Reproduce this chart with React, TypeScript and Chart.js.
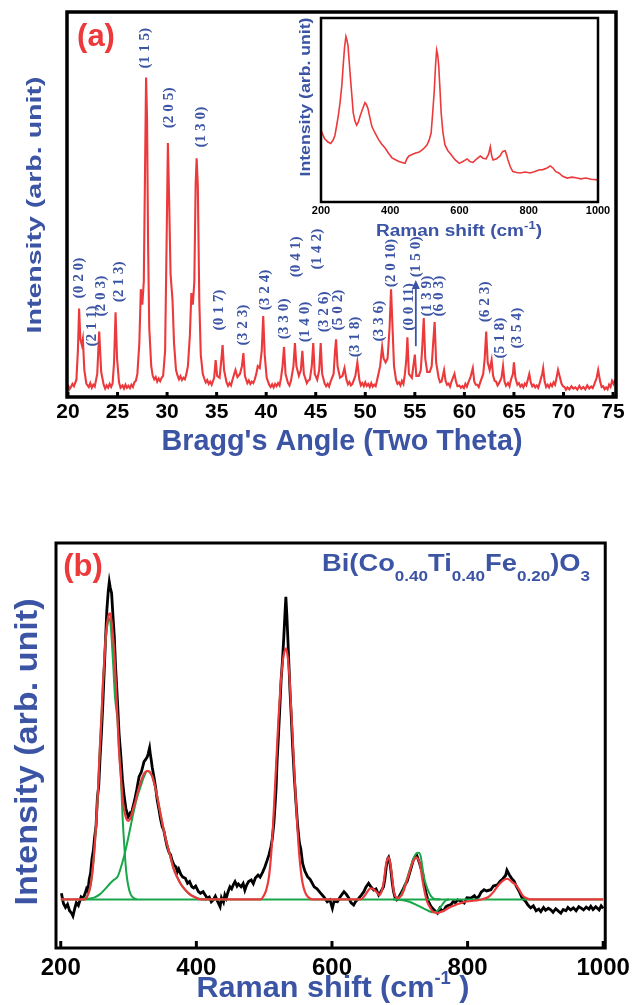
import React, { useEffect, useRef } from 'react';
import { Chart, registerables } from 'chart.js';
Chart.register(...registerables);

const BLUE = '#3b54a4';
const RED = '#ec3a3c';
const GREEN = '#19a64a';
const SANS = '"Liberation Sans", Arial, sans-serif';
const SERIF = '"Liberation Serif", "Times New Roman", serif';

// ---------------- (a) XRD pattern ----------------
const xrdTicks = [20, 25, 30, 35, 40, 45, 50, 55, 60, 65, 70, 75];
const xrdAngle = [
  20.0, 20.15, 20.3, 20.45, 20.6, 20.85, 21.0, 21.12, 21.25, 21.4, 21.5, 21.65, 21.85, 22.1, 22.25, 22.4, 22.55, 22.7, 22.95, 23.15, 23.35, 23.6, 23.75, 23.9,
  24.05, 24.2, 24.35, 24.5, 24.65, 24.8, 24.95, 25.15, 25.3, 25.5, 25.65, 25.8, 25.95, 26.1, 26.25, 26.4, 26.55, 26.7, 26.85, 27.0, 27.2, 27.35, 27.5, 27.65, 27.78, 27.88, 27.98,
  28.08, 28.2, 28.4, 28.55, 28.7, 28.85, 29.0, 29.15, 29.3, 29.45, 29.6, 29.8, 29.95, 30.08, 30.2, 30.35, 30.55, 30.7, 30.9, 31.05, 31.2, 31.35, 31.5, 31.65, 31.8, 31.95, 32.1, 32.3,
  32.45, 32.6, 32.75, 32.88, 32.98, 33.1, 33.25, 33.4, 33.6, 33.75, 33.9, 34.05, 34.2, 34.35, 34.5, 34.75, 34.9, 35.05, 35.3, 35.45, 35.6, 35.75,
  36.0, 36.15, 36.3, 36.45, 36.6, 36.9, 37.1, 37.35, 37.55, 37.7, 37.85, 38.1, 38.25, 38.4, 38.55, 38.7, 38.85, 39.0, 39.15, 39.35, 39.55, 39.7, 39.85, 40.05,
  40.3, 40.45, 40.6, 40.75, 40.9, 41.05, 41.2, 41.35, 41.5, 41.65, 41.8, 41.95, 42.2, 42.35, 42.5, 42.75, 42.9, 43.05, 43.3, 43.5, 43.65, 43.8, 44.1, 44.25, 44.4,
  44.6, 44.75, 44.9, 45.15, 45.35, 45.5, 45.65, 45.9, 46.05, 46.2, 46.35, 46.5, 46.8, 46.95, 47.05, 47.2, 47.45, 47.7, 47.9, 48.1, 48.25, 48.4, 48.55,
  48.7, 49.0, 49.2, 49.4, 49.55, 49.7, 49.85, 50.0, 50.15, 50.3, 50.45, 50.6, 50.75, 50.9, 51.05, 51.2, 51.5, 51.7, 51.85, 52.05, 52.25, 52.45, 52.6, 52.75, 52.9,
  53.1, 53.25, 53.4, 53.55, 53.7, 53.85, 54.0, 54.15, 54.25, 54.4, 54.7, 54.85, 55.0, 55.15, 55.4, 55.6, 55.75, 55.9, 56.05, 56.25, 56.5, 56.7,
  56.85, 57.0, 57.15, 57.4, 57.55, 57.7, 57.95, 58.1, 58.25, 58.4, 58.55, 58.7, 59.0, 59.15, 59.3, 59.5, 59.65, 59.8, 59.95, 60.1, 60.25, 60.4, 60.6, 60.85, 61.0, 61.15, 61.3,
  61.45, 61.6, 61.9, 62.05, 62.2, 62.35, 62.55, 62.75, 62.9, 63.05, 63.2, 63.35, 63.5, 63.75, 63.9, 64.05, 64.2, 64.4, 64.55, 64.7, 64.9, 65.0, 65.15, 65.35, 65.5,
  65.65, 65.8, 65.95, 66.1, 66.25, 66.4, 66.55, 66.7, 66.85, 67.0, 67.15, 67.3, 67.45, 67.6, 67.85, 67.95, 68.1, 68.25, 68.4, 68.55, 68.7, 68.85, 69.0, 69.15, 69.3, 69.45, 69.6, 69.8, 69.95, 70.1,
  70.25, 70.4, 70.6, 70.8, 71.0, 71.2, 71.4, 71.6, 71.8, 72.0, 72.2, 72.4, 72.6, 72.8, 72.95, 73.1, 73.35, 73.5, 73.7, 73.85, 74.0, 74.15, 74.3, 74.45, 74.6, 74.75, 74.9, 75.05, 75.2,
];
const xrdIntensity = [
  3.2, 2.0, 2.6, 3.4, 2.8, 4.5, 12, 23, 15, 13.5, 15, 7, 3.5, 2.6, 3.6, 2.4, 3.2, 2.7, 6, 17, 6.5, 3.2, 2.2, 3.0,
  2.4, 3.4, 2.6, 3.5, 9, 22, 10, 3.8, 2.4, 3.0, 2.2, 3.2, 2.4, 2.9, 2.3, 3.2, 2.6, 3.8, 4.2, 6, 14, 28, 24, 30, 60, 83, 72,
  40, 18, 8, 5.5, 4.6, 5.2, 4.0, 4.8, 4.1, 5.0, 5.5, 12, 40, 66, 52, 32, 25, 14, 7, 5.6, 4.6, 5.4, 4.4, 5.0, 4.6, 6.0, 8, 16,
  27, 24, 30, 55, 62, 55, 25, 11, 6, 4.8, 3.8, 4.4, 3.4, 4.0, 3.2, 5, 9.6, 5.5, 5, 9, 13.5, 7,
  3.8, 2.9, 3.6, 3.0, 4.5, 7, 5.2, 6, 8, 11.4, 5.5, 3.6, 4.3, 3.4, 4.0, 3.6, 4.6, 6, 8, 7.5, 12, 21, 11, 5,
  3.2, 2.6, 3.3, 2.5, 3.4, 2.8, 3.6, 3.0, 5, 8, 13, 6, 3.6, 3.0, 4.2, 8, 14, 8, 5.5, 7, 12, 6, 3.6, 4.3, 4.5,
  8, 14, 6, 4.5, 7, 14, 6, 3.5, 2.8, 3.4, 2.7, 4, 6, 12, 15, 8, 5, 5.5, 7.5, 4.5, 3.3, 3.9, 3.0,
  3.4, 5.5, 9, 4.5, 3.0, 3.6, 2.8, 3.8, 2.9, 3.4, 2.6, 3.6, 2.7, 3.2, 2.8, 4.5, 8, 13, 10, 9, 10, 18, 28, 18, 8,
  4.5, 3.4, 3.8, 3.0, 4.2, 3.4, 6, 10, 15.5, 6, 5, 8, 11, 5.5, 5.5, 7, 13, 20.5, 10, 6.5, 6.5, 8,
  14, 19.5, 9, 5, 3.8, 4, 7, 4.2, 3.2, 3.5, 2.7, 4, 6, 4, 2.8, 3, 2.4, 2.8, 2.3, 3.4, 2.7, 3.8, 5, 7.5, 4, 3.2, 3.2,
  2.6, 3.8, 6, 10, 17, 9, 7, 9.6, 5.5, 4.2, 4, 3.0, 3.6, 5, 8, 4, 2.9, 3.6, 2.8, 4.5, 6, 9, 5, 3.2, 3.6,
  2.7, 3.2, 2.5, 3.5, 3.0, 4.5, 6, 3.8, 2.8, 3.2, 2.5, 3.0, 2.4, 3.6, 6, 7.5, 4, 2.6, 3.2, 2.5, 3.4, 2.8, 3.8, 3.2, 5, 7, 5.5, 3.5, 2.8, 2.6,
  1.9, 2.5, 2.0, 2.8, 2.2, 2.5, 1.9, 2.9, 2.1, 2.6, 2.0, 3.0, 2.2, 2.7, 2.3, 3.2, 5, 7, 4, 2.6, 2.8, 2.0, 2.5, 2.0, 3.2, 2.6, 4.2, 3.4, 4.5,
];
const hklText = [
  '(0 2 0)', '(2 1 1)', '(2 0 3)', '(2 1 3)', '(1 1 5)', '(2 0 5)', '(1 3 0)', '(0 1 7)', '(3 2 3)', '(3 2 4)',
  '(3 3 0)', '(0 4 1)', '(1 4 0)', '(1 4 2)', '(3 2 6)', '(5 0 2)', '(3 1 8)', '(3 3 6)', '(2 0 10)', '(0 0 11)',
  '(1 5 0)', '(1 3 9)', '(6 0 3)', '(6 2 3)', '(5 1 8)', '(3 5 4)',
];
const hklAngle = [
  21.11, 22.42, 23.33, 25.15, 27.77, 30.19, 33.42, 35.24, 37.66, 39.88,
  41.8, 43.01, 43.92, 45.13, 45.83, 47.25, 48.96, 51.38, 52.59, 54.41,
  55.12, 56.23, 57.44, 62.08, 63.59, 65.31,
];
const hklLevel = [
  30.9, 18.4, 26.2, 29.9, 90.6, 75.1, 70.1, 22.6, 18.7, 27.8,
  20.3, 36.4, 19.5, 38.4, 22.1, 22.6, 15.6, 19.7, 34.8, 23.4,
  36.4, 26.2, 26.2, 24.7, 15.3, 17.9,
];
const arrowAngle = 55.1;
const arrowFrom = 13.2;
const arrowTo = 30.4;

// ---------------- inset Raman ----------------
const insetTicks = [200, 400, 600, 800, 1000];
const insetShift = [
  201, 210, 220, 228, 235, 240, 245, 250, 255, 260, 264, 268, 272, 275, 278, 282, 286, 290, 293, 298, 303, 308, 313,
  320, 327, 331, 336, 341, 347, 356, 366, 375, 385, 395, 405, 415, 425, 434, 443, 448, 454, 463, 473, 482, 492, 499,
  506, 512, 518, 522, 527, 531, 534, 537, 540, 544, 547, 552, 558, 566, 576, 587, 599, 610, 622, 630, 639, 650, 660,
  668, 677, 684, 689, 693, 697, 707, 717, 725, 732, 737, 740, 747, 754, 765, 775, 790, 804, 816, 829, 841, 853, 862,
  870, 878, 887, 898, 911, 925, 940, 950, 965, 980, 1000,
];
const insetIntensity = [
  38.6, 34.5, 32.6, 31.8, 33.7, 36, 41.3, 47, 54, 63, 74, 84, 90, 88, 85, 75, 65, 56, 48.6, 44, 41.8, 43.5, 46.7,
  50.5, 54, 53, 50.5, 46, 41, 37.5, 34, 31.5, 29.3, 26.5, 24, 23, 22, 21.5, 21, 23.5, 25, 25.8, 26.6, 27, 28.3, 29.5,
  31, 33.5, 37.5, 47, 60, 75, 82.6, 80, 74, 60, 48.6, 38, 31, 28, 25.7, 23, 21, 22, 23.4, 22, 21.5, 23.5, 25,
  23.8, 23.4, 26, 30, 25, 22.8, 23.5, 25, 27.5, 27.9, 25, 22.8, 19, 16.5, 16, 15.8, 16.3, 15.8, 16.5, 17.4, 17.6, 18.5, 19.6,
  18.5, 16.5, 15.8, 14, 13, 13.5, 13, 12.6, 13, 12.4, 12,
];

// ---------------- (b) Raman with fit ----------------
const ramanTicks = [200, 400, 600, 800, 1000];
const ramanShift = [
  201, 204, 207, 210, 213, 216, 218, 221, 223, 226, 230, 233, 236, 238, 240, 242, 244, 246, 248, 250, 252, 254, 256, 258,
  260, 262, 264, 266, 268, 270, 271.6, 273, 275, 277, 279, 281, 283.8, 286, 288.7, 291, 293.6, 296, 299.4, 302, 304, 306,
  309, 312, 315.5, 319, 322.8, 325, 327.6, 329, 331, 332, 333.5, 335, 337.4, 340, 342.3, 345, 347, 349.6, 352, 355, 357,
  360, 362, 364, 367, 370, 372, 374, 377, 380, 383.8, 387, 390, 393.4, 396, 399, 403, 406, 410, 413, 416, 419, 422, 425,
  428, 431, 435, 437, 440, 442, 444, 447, 449.5, 452, 455, 457, 460, 462, 466, 469, 471.5, 474, 477, 481, 484, 487, 491,
  494, 498, 501, 504.5, 507, 510, 512, 514.3, 516, 517.7, 519, 521, 523, 525, 527, 529, 530.5, 532, 533.5, 534.8, 536.5,
  538, 540, 542, 544.5, 547, 549.5, 552, 554, 556.7, 560, 564, 568, 573.8, 578, 583.5, 588, 593, 597, 600.6, 603, 608,
  612, 617.7, 621, 625, 628, 632, 635, 639.6, 643, 647, 650, 654, 657, 661.5, 665, 668.9, 672, 676, 678, 680, 682, 683.5,
  685, 686.8, 689, 690.8, 693, 695.6, 698, 700.4, 704, 707.7, 711, 715, 718, 720, 722.5, 724.8, 726.3, 729, 731, 733.6,
  736, 738.6, 742, 746, 750, 753, 755.6, 759, 762, 765.5, 768, 771, 775.4, 779, 782, 785.3, 790, 795, 799, 804.8, 810,
  813, 817, 820, 824.3, 828, 834.3, 838, 844, 848, 852, 856, 858, 861.4, 865, 868.7, 872, 876, 880, 885.6, 889, 893, 897,
  901, 905, 908, 912, 915, 919, 922.8, 926, 930, 934, 937.5, 941, 945, 948, 952, 956, 960, 964, 967, 971, 975, 979, 981.7,
  985, 989, 994, 997, 1000,
];
const ramanIntensity = [
  13.5, 11, 10, 10.8, 9.2, 8.6, 7.9, 10, 11.2, 10.5, 12.6, 12.2, 13.5, 14.6, 14, 17, 18.5, 22, 24, 27.5, 30, 37, 40, 47,
  53, 60, 68, 76, 83.5, 88, 90.4, 89, 87.6, 82, 76.9, 69, 60.5, 53, 47.2, 41.5, 37.4, 34.5, 32.4, 33.2, 32.4, 34.5,
  36.5, 39, 42.3, 43.5, 46, 46.5, 47.2, 48, 49.4, 48, 46.4, 44.5, 42.3, 39.5, 36.5, 34, 32, 30, 29, 26.5, 25,
  23.5, 23, 21.7, 20.5, 20, 18.8, 19.5, 18.2, 17.5, 17.2, 16, 16.4, 15.1, 14.8, 15.3, 13.9, 13.5, 13.9, 13.1, 12.3, 12.6, 11.4, 11.9,
  12.8, 11.6, 10.2, 12.4, 11.3, 13.1, 12.3, 14, 15.1, 14.6, 15.8, 16.4, 15.3, 15.8, 15.1, 15.9, 14.3, 15.5, 16.4, 16.8, 15.9, 17.3, 18,
  17.5, 18.8, 20, 21.7, 23, 25, 27, 30.8, 35, 39.8, 46, 52.2, 59, 66.2, 71, 76.9, 82, 86.7, 82, 76.9, 70,
  63.7, 57, 49.7, 42, 35.7, 30, 25.9, 24.5, 20.9, 19, 17.6, 16.9, 15.1, 14.6, 13.5, 12.6, 11.4, 11.9, 9.8, 11.5, 11.4,
  12.6, 13.9, 13.3, 12.3, 11.2, 10.6, 11.5, 12.3, 13, 13.9, 15, 16, 15.2, 14.3, 14.6, 13.1, 13.9, 15.1, 17, 20, 22, 22.4,
  21.5, 19.3, 16, 13.9, 12.5, 11.9, 12.4, 13.1, 14.2, 15.6, 16.5, 18.8, 20.5, 21.7, 22.5, 23, 22.3, 21, 19.8, 18.6,
  16, 13.6, 11.6, 10.3, 9.5, 9, 8.6, 9.8, 9.2, 9.4, 10.2, 10.5, 10.7, 11.5, 11.2, 11.9, 11.6, 11.1, 12.4, 12.3, 12.9,
  12.2, 12.8, 13.8, 14.4, 14.1, 14.4, 15.3, 15.6, 16.5, 17.1, 17.9, 19.2, 18.1, 17.2, 16.5, 15.2, 14, 12.5, 11.5, 10.6, 9.9, 10.4,
  9.2, 9.6, 9, 10, 9.3, 9.8, 9.4, 8.8, 9.7, 9.1, 8.6, 9.5, 9.2, 10, 9.4, 9.9, 9.2, 10.2, 9.9, 9.4, 10.1, 9.6, 10.3,
  9.5, 10.2, 9.4, 10.4, 9.8,
];
const fitShift = [
  200, 236, 240, 244, 247, 250, 252, 255, 257, 260, 262, 264.5, 266.8, 270, 273, 276, 279, 281.5, 283.8, 286, 288.7, 291,
  293.6, 296.5, 299.4, 302, 304.2, 307, 310.6, 314, 318, 322, 327.6, 331, 335, 338.5, 342.3, 347, 352, 357, 361.8, 366,
  371.5, 377, 383.8, 390, 396, 405.7, 495, 499, 503, 507, 510, 513, 516, 518.5, 521, 523.5, 526, 529, 532.3, 535, 537.3,
  539.5, 542, 544.5, 547, 549.5, 552, 554.5, 556.7, 560, 564, 571.3, 642, 649, 653, 656.6, 660, 664, 667, 670, 673, 676,
  678, 680, 683.5, 685.2, 686.8, 689, 690.8, 693.5, 697, 700, 703, 706.5, 710, 714, 717.5, 721, 724.8, 727, 730, 733,
  736.5, 740, 744, 747.5, 751, 755, 760, 765, 772, 780, 788, 795.5, 805, 815.5, 823, 830.7, 838, 845.9, 852, 858, 862,
  866, 871, 876, 881, 887, 893, 1000,
];
const fitIntensity = [
  12, 12, 13.1, 15.5, 19.3, 25, 30, 39, 47.2, 57, 64.5, 72, 77.7, 81.8, 82.6, 79, 72.8, 64.5, 56.3, 48.5, 42.3, 37.5,
  34, 32, 31.4, 31.8, 32.8, 34.5, 36.5, 38.8, 41, 42.8, 43.7, 43.5, 42.3, 40.2, 37.4, 33.2, 29.1, 25.5, 22.5, 19.8,
  17.6, 15.8, 14.3, 13.3, 12.7, 12, 12, 12.8, 14.3, 17.5, 22.5, 30, 39.8, 48, 56.3, 63, 68.6, 72.5, 74, 71.5, 67,
  60, 52.2, 43.5, 35.7, 28.5, 22.5, 18.5, 16, 13.9, 12.7, 12, 12, 13.1, 14.1, 14.7, 14.6, 14.1, 13.6, 13.1, 13.9, 16,
  18.5, 20.9, 22.4, 21.5, 20, 17, 14.3, 12.8, 12.3, 12.6, 13.1, 14.5, 16.4, 18.5, 20.5, 21.8, 22.4, 21.9, 20.5, 17.2,
  14, 11.6, 10.2, 9.2, 8.8, 8.6, 8.9, 9.2, 9.9, 10.5, 11, 11.4, 11.6, 11.8, 12.1, 12.6, 13.8, 15.6, 16.6, 17.1, 16.8,
  16.2, 15.6, 14.4, 13, 12.3, 12, 12,
];
const comp1Shift = [232, 240, 244, 247, 250, 252, 255, 257, 260, 262, 264.5, 266.8, 270, 272, 274, 277, 280, 283.8, 286, 288.7, 291, 293.6, 296.5, 299.4, 303, 308, 312];
const comp1Intensity = [12, 13.1, 15.5, 19.3, 25, 30, 39, 47.2, 57, 64.5, 72, 77, 80.8, 81.4, 79, 71, 62, 56, 49, 42.3, 33, 25.5, 19, 15.5, 13.3, 12.3, 12];
const comp2Shift = [236, 250, 258, 264, 272, 278, 283.8, 288, 293.6, 298, 303, 308, 313, 318, 322.8, 327.6, 331, 335, 338.5, 342.3, 347, 352, 357, 361.8, 366, 371.5, 377, 383.8, 390, 396, 405.7, 420];
const comp2Intensity = [12, 12.5, 13.3, 14.3, 15.8, 16.8, 17.6, 19.5, 22.8, 26, 30, 34, 37.4, 40, 42.3, 43.7, 43.5, 42.3, 40.2, 37.4, 33.2, 29.1, 25.5, 22.5, 19.8, 17.6, 15.8, 14.3, 13.3, 12.7, 12.1, 12];
const comp3Shift = [692, 700, 705, 710, 715, 720, 724, 728, 731, 735, 738, 742.5, 746, 750, 755, 760];
const comp3Intensity = [12, 12.6, 14.3, 16.8, 19.5, 22, 23.3, 23.5, 22.5, 18.1, 16, 13.9, 12.8, 12.2, 12.05, 12];
const comp4Shift = [690, 700, 710, 716, 725, 735, 742, 748, 753, 758, 763, 768, 773];
const comp4Intensity = [12, 11.9, 11.6, 11.3, 10.6, 9.8, 9.2, 8.8, 8.9, 9.6, 10.8, 11.8, 12];
const baselineShift = [200, 1000];
const baselineIntensity = [12, 12];

// ---------------- helpers ----------------
const pts = (xs: number[], ys: number[]) => xs.map((x, i) => ({ x, y: ys[i] }));

function drawLabel(ctx: CanvasRenderingContext2D, text: string, cx: number, cy: number, o: { font: string; color: string; rotate?: boolean; length?: number; scale?: number }) {
  ctx.save();
  ctx.font = o.font;
  ctx.fillStyle = o.color;
  ctx.textAlign = 'center';
  ctx.textBaseline = 'middle';
  const w = ctx.measureText(text).width;
  const s = o.length ? o.length / w : o.scale ?? 1;
  ctx.translate(cx, cy);
  if (o.rotate) ctx.rotate(-Math.PI / 2);
  ctx.scale(s, 1);
  ctx.fillText(text, 0, 0);
  ctx.restore();
}

type Seg = { text: string; font: string; dy: number };
function drawRich(ctx: CanvasRenderingContext2D, segs: Seg[], cx: number, baseline: number, length: number, color: string) {
  ctx.save();
  ctx.fillStyle = color;
  ctx.textAlign = 'left';
  ctx.textBaseline = 'alphabetic';
  let total = 0;
  const ws = segs.map((s) => {
    ctx.font = s.font;
    const w = ctx.measureText(s.text).width;
    total += w;
    return w;
  });
  const sc = length / total;
  ctx.translate(cx - length / 2, baseline);
  ctx.scale(sc, 1);
  let x = 0;
  segs.forEach((s, i) => {
    ctx.font = s.font;
    ctx.fillText(s.text, x, s.dy);
    x += ws[i];
  });
  ctx.restore();
}

function framePlugin(lineWidth: number, tickLen: number) {
  return {
    id: 'frame',
    afterDatasetsDraw(chart: any) {
      const { ctx, chartArea: a } = chart;
      ctx.save();
      ctx.strokeStyle = '#000';
      ctx.lineWidth = lineWidth;
      ctx.strokeRect(a.left, a.top, a.right - a.left, a.bottom - a.top);
      if (tickLen > 0) {
        const xs = chart.scales.x;
        ctx.lineWidth = 3;
        xs.ticks.forEach((t: any) => {
          const x = xs.getPixelForValue(t.value);
          ctx.beginPath();
          ctx.moveTo(x, a.bottom);
          ctx.lineTo(x, a.bottom - tickLen);
          ctx.stroke();
        });
      }
      ctx.restore();
    },
  };
}

function xScale(min: number, max: number, ticks: number[], size: number, pad: number, height: number) {
  return {
    type: 'linear',
    position: 'bottom',
    min,
    max,
    grid: { display: false, drawTicks: false },
    border: { display: false },
    ticks: {
      font: { family: SANS, size, weight: 'bold' },
      color: '#000',
      padding: pad,
      maxRotation: 0,
      autoSkip: false,
      callback: (v: number) => String(v),
    },
    afterBuildTicks: (s: any) => {
      s.ticks = ticks.map((v) => ({ value: v }));
    },
    afterFit: (s: any) => {
      s.height = height;
    },
  };
}

const yScale = { type: 'linear', min: 0, max: 100, display: false };

function baseOptions(padding: any, x: any) {
  return {
    responsive: false,
    animation: false,
    events: [],
    layout: { padding },
    plugins: { legend: { display: false }, tooltip: { enabled: false } },
    elements: { point: { radius: 0 } },
    scales: { x, y: yScale },
  };
}

function ChartCanvas({ left, top, width, height, make }: { left: number; top: number; width: number; height: number; make: () => any }) {
  const ref = useRef<HTMLCanvasElement>(null);
  useEffect(() => {
    const chart = new Chart(ref.current as HTMLCanvasElement, make());
    return () => chart.destroy();
  }, []);
  return <canvas ref={ref} width={width} height={height} style={{ position: 'absolute', left, top, width, height }} />;
}

// ---------------- chart configs ----------------
const makeXrd = () => ({
  type: 'line',
  data: {
    datasets: [{ data: pts(xrdAngle, xrdIntensity), borderColor: RED, borderWidth: 2.1, tension: 0 }],
  },
  options: baseOptions({ left: 67, right: 20, top: 12, bottom: 0 }, xScale(19.9, 75.3, xrdTicks, 21, 3, 73)),
  plugins: [
    framePlugin(3.5, 5),
    {
      id: 'xrdText',
      afterDraw(chart: any) {
        const { ctx } = chart;
        const xs = chart.scales.x;
        const ys = chart.scales.y;
        hklText.forEach((t, i) => {
          drawLabel(ctx, t, xs.getPixelForValue(hklAngle[i]), ys.getPixelForValue(hklLevel[i]), {
            font: `bold 15px ${SERIF}`,
            color: BLUE,
            rotate: true,
            scale: 1.02,
          });
        });
        const ax = xs.getPixelForValue(arrowAngle);
        const y0 = ys.getPixelForValue(arrowFrom);
        const y1 = ys.getPixelForValue(arrowTo);
        ctx.save();
        ctx.strokeStyle = BLUE;
        ctx.fillStyle = BLUE;
        ctx.lineWidth = 1.8;
        ctx.beginPath();
        ctx.moveTo(ax, y0);
        ctx.lineTo(ax, y1 + 6);
        ctx.stroke();
        ctx.beginPath();
        ctx.moveTo(ax, y1);
        ctx.lineTo(ax - 4, y1 + 9);
        ctx.lineTo(ax + 4, y1 + 9);
        ctx.closePath();
        ctx.fill();
        ctx.restore();
        drawLabel(ctx, '(a)', 96, 37, { font: `bold 31px ${SANS}`, color: RED });
        drawLabel(ctx, 'Intensity (arb. unit)', 35, 205, { font: `bold 21px ${SANS}`, color: BLUE, rotate: true, length: 257 });
        drawLabel(ctx, "Bragg's Angle (Two Theta)", 342, 442, { font: `bold 29px ${SANS}`, color: BLUE, length: 361 });
      },
    },
  ],
});

const makeInset = () => ({
  type: 'line',
  data: {
    datasets: [{ data: pts(insetShift, insetIntensity), borderColor: RED, borderWidth: 1.6, tension: 0 }],
  },
  options: baseOptions({ left: 41, right: 22, top: 18, bottom: 0 }, xScale(200, 1000, insetTicks, 11, 2, 48)),
  plugins: [
    framePlugin(2.5, 0),
    {
      id: 'insetText',
      afterDraw(chart: any) {
        const { ctx } = chart;
        drawLabel(ctx, 'Intensity (arb. unit)', 26, 97, { font: `bold 14px ${SANS}`, color: BLUE, rotate: true, length: 159 });
        drawRich(
          ctx,
          [
            { text: 'Raman shift (cm', font: `bold 16px ${SANS}`, dy: 0 },
            { text: '-1', font: `bold 11px ${SANS}`, dy: -7 },
            { text: ')', font: `bold 16px ${SANS}`, dy: 0 },
          ],
          179,
          236,
          166,
          BLUE,
        );
      },
    },
  ],
});

const makeRaman = () => ({
  type: 'line',
  data: {
    datasets: [
      { data: pts(fitShift, fitIntensity), borderColor: RED, borderWidth: 2.2, cubicInterpolationMode: 'monotone' },
      { data: pts(comp1Shift, comp1Intensity), borderColor: GREEN, borderWidth: 2, cubicInterpolationMode: 'monotone' },
      { data: pts(comp2Shift, comp2Intensity), borderColor: GREEN, borderWidth: 2, cubicInterpolationMode: 'monotone' },
      { data: pts(comp3Shift, comp3Intensity), borderColor: GREEN, borderWidth: 2, cubicInterpolationMode: 'monotone' },
      { data: pts(comp4Shift, comp4Intensity), borderColor: GREEN, borderWidth: 2, cubicInterpolationMode: 'monotone' },
      { data: pts(baselineShift, baselineIntensity), borderColor: GREEN, borderWidth: 2 },
      { data: pts(ramanShift, ramanIntensity), borderColor: '#000', borderWidth: 2.8, tension: 0 },
    ],
  },
  options: baseOptions({ left: 56, right: 26, top: 53, bottom: 0 }, xScale(193, 1003, ramanTicks, 24, 6, 57)),
  plugins: [
    framePlugin(3, 7),
    {
      id: 'ramanText',
      afterDraw(chart: any) {
        const { ctx } = chart;
        drawLabel(ctx, '(b)', 83, 77, { font: `bold 31px ${SANS}`, color: RED });
        drawLabel(ctx, 'Intensity (arb. unit)', 28, 262, { font: `bold 31px ${SANS}`, color: BLUE, rotate: true, length: 307 });
        const main = `bold 24px ${SANS}`;
        const sub = `bold 15px ${SANS}`;
        drawRich(
          ctx,
          [
            { text: 'Bi(Co', font: main, dy: 0 },
            { text: '0.40', font: sub, dy: 10 },
            { text: 'Ti', font: main, dy: 0 },
            { text: '0.40', font: sub, dy: 10 },
            { text: 'Fe', font: main, dy: 0 },
            { text: '0.20', font: sub, dy: 10 },
            { text: ')O', font: main, dy: 0 },
            { text: '3', font: sub, dy: 10 },
          ],
          456,
          81,
          268,
          BLUE,
        );
        drawRich(
          ctx,
          [
            { text: 'Raman shift (cm', font: `bold 30px ${SANS}`, dy: 0 },
            { text: '-1', font: `bold 18px ${SANS}`, dy: -13 },
            { text: ' )', font: `bold 30px ${SANS}`, dy: 0 },
          ],
          333,
          507,
          273,
          BLUE,
        );
      },
    },
  ],
});

export default function App() {
  return (
    <div style={{ position: 'absolute', left: 0, top: 0, width: 636, height: 1005, background: '#fff', overflow: 'hidden' }}>
      <ChartCanvas left={0} top={0} width={636} height={470} make={makeXrd} />
      <ChartCanvas left={280} top={0} width={340} height={250} make={makeInset} />
      <ChartCanvas left={0} top={490} width={636} height={515} make={makeRaman} />
    </div>
  );
}
